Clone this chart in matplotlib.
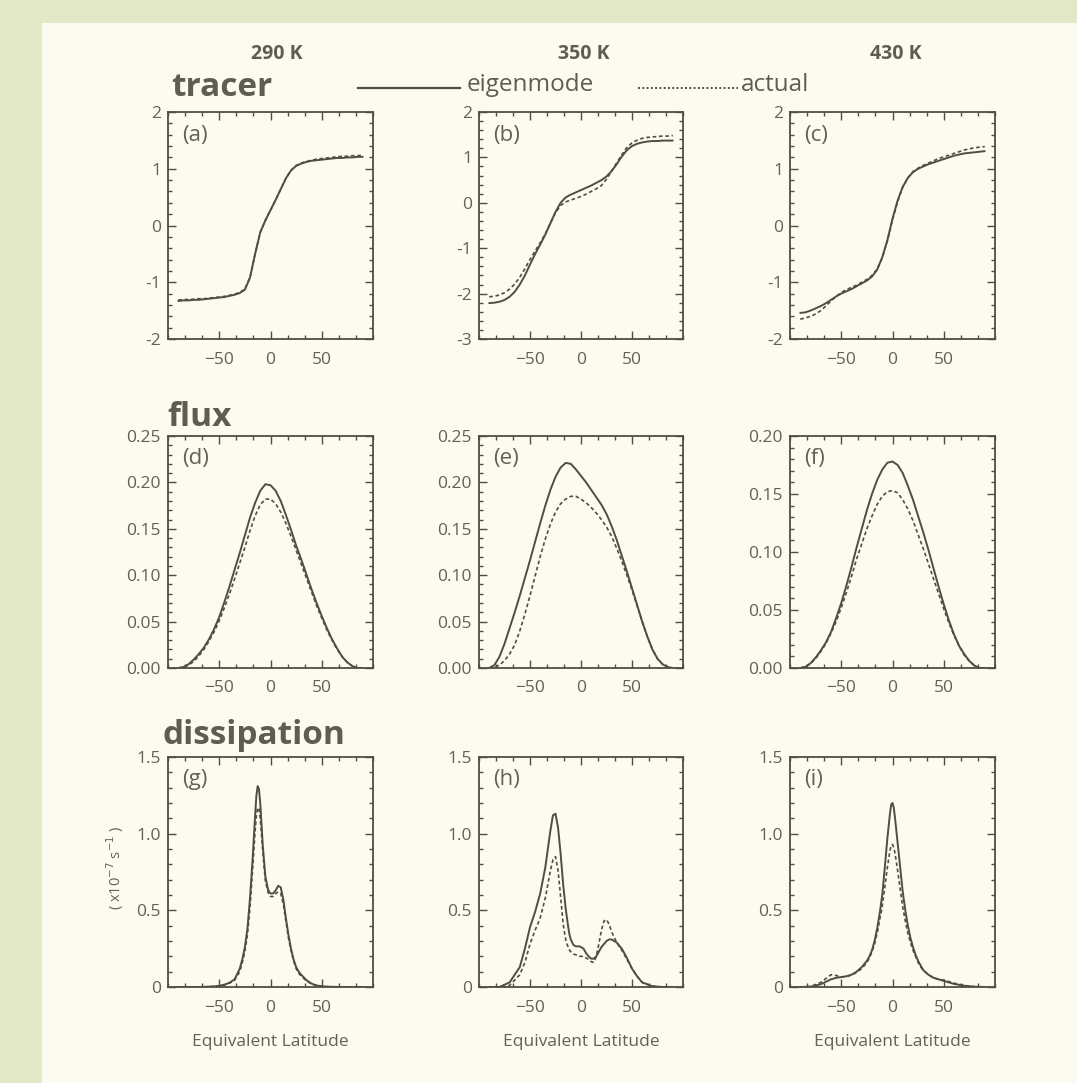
import numpy as np
import matplotlib
matplotlib.use("Agg")
import matplotlib.pyplot as plt
from matplotlib.ticker import FixedLocator, MultipleLocator, AutoMinorLocator, FormatStrFormatter
from matplotlib.patches import Rectangle
from matplotlib.lines import Line2D

# ---- data ----
lat = [-90, -85, -80, -75, -70, -65, -60, -55, -50, -45, -40, -35, -30, -25, -20, -15, -10, -5,
       0, 5, 10, 15, 20, 25, 30, 35, 40, 45, 50, 55, 60, 65, 70, 75, 80, 85, 90]

tracer_290_eig = [-1.33, -1.32, -1.32, -1.31, -1.31, -1.30, -1.29, -1.28, -1.27, -1.26, -1.24, -1.22, -1.19,
                  -1.13, -0.92, -0.50, -0.12, 0.09, 0.27, 0.45, 0.64, 0.83, 0.97, 1.05, 1.09, 1.12, 1.14,
                  1.15, 1.16, 1.17, 1.18, 1.19, 1.19, 1.20, 1.20, 1.21, 1.21]
tracer_290_act = [-1.31, -1.31, -1.30, -1.30, -1.29, -1.29, -1.28, -1.27, -1.26, -1.25, -1.23, -1.21, -1.18,
                  -1.12, -0.91, -0.50, -0.12, 0.09, 0.27, 0.45, 0.64, 0.83, 0.97, 1.06, 1.10, 1.13, 1.15,
                  1.17, 1.18, 1.19, 1.20, 1.21, 1.22, 1.22, 1.23, 1.23, 1.24]
tracer_350_eig = [-2.21, -2.20, -2.18, -2.14, -2.07, -1.96, -1.80, -1.60, -1.36, -1.13, -0.92, -0.70, -0.45,
                  -0.20, 0.00, 0.12, 0.18, 0.23, 0.28, 0.33, 0.38, 0.44, 0.50, 0.58, 0.70, 0.85, 1.02,
                  1.16, 1.25, 1.30, 1.33, 1.35, 1.36, 1.36, 1.37, 1.37, 1.37]
tracer_350_act = [-2.07, -2.06, -2.03, -1.98, -1.90, -1.79, -1.64, -1.45, -1.25, -1.06, -0.88, -0.68, -0.45,
                  -0.22, -0.06, 0.02, 0.06, 0.10, 0.14, 0.19, 0.25, 0.31, 0.38, 0.52, 0.70, 0.88, 1.06,
                  1.22, 1.32, 1.38, 1.42, 1.44, 1.45, 1.46, 1.47, 1.47, 1.48]
tracer_430_eig = [-1.54, -1.53, -1.50, -1.46, -1.42, -1.37, -1.31, -1.25, -1.20, -1.16, -1.12, -1.07, -1.02,
                  -0.97, -0.90, -0.78, -0.56, -0.26, 0.12, 0.44, 0.68, 0.84, 0.94, 1.00, 1.04, 1.08, 1.11,
                  1.14, 1.17, 1.20, 1.23, 1.25, 1.27, 1.28, 1.29, 1.30, 1.31]
tracer_430_act = [-1.65, -1.63, -1.60, -1.56, -1.50, -1.42, -1.33, -1.25, -1.18, -1.13, -1.09, -1.05, -1.00,
                  -0.95, -0.88, -0.77, -0.57, -0.27, 0.10, 0.42, 0.68, 0.84, 0.95, 1.01, 1.06, 1.10, 1.14,
                  1.18, 1.21, 1.24, 1.27, 1.30, 1.33, 1.35, 1.37, 1.38, 1.39]

flux_290_eig = [0.000, 0.001, 0.004, 0.009, 0.015, 0.022, 0.031, 0.042, 0.055, 0.071, 0.088, 0.106, 0.124,
                0.143, 0.162, 0.178, 0.191, 0.198, 0.197, 0.191, 0.180, 0.165, 0.149, 0.132, 0.117, 0.101,
                0.085, 0.070, 0.056, 0.043, 0.031, 0.021, 0.012, 0.006, 0.002, 0.000, 0.000]
flux_290_act = [0.000, 0.001, 0.003, 0.007, 0.013, 0.020, 0.029, 0.039, 0.051, 0.065, 0.080, 0.096, 0.113,
                0.130, 0.148, 0.164, 0.176, 0.182, 0.182, 0.177, 0.168, 0.156, 0.142, 0.127, 0.112, 0.097,
                0.082, 0.067, 0.054, 0.041, 0.030, 0.020, 0.012, 0.006, 0.002, 0.000, 0.000]
flux_350_eig = [0.000, 0.003, 0.012, 0.026, 0.043, 0.060, 0.078, 0.097, 0.116, 0.136, 0.156, 0.175, 0.192,
                0.206, 0.216, 0.221, 0.220, 0.214, 0.207, 0.200, 0.192, 0.184, 0.176, 0.166, 0.153, 0.138,
                0.121, 0.104, 0.086, 0.068, 0.050, 0.034, 0.020, 0.010, 0.004, 0.001, 0.000]
flux_350_act = [0.000, 0.001, 0.003, 0.008, 0.015, 0.025, 0.040, 0.058, 0.078, 0.099, 0.120, 0.139, 0.155,
                0.168, 0.177, 0.182, 0.185, 0.185, 0.182, 0.178, 0.173, 0.167, 0.160, 0.152, 0.142, 0.129,
                0.115, 0.100, 0.084, 0.067, 0.050, 0.034, 0.020, 0.010, 0.004, 0.001, 0.000]
flux_430_eig = [0.000, 0.001, 0.004, 0.009, 0.015, 0.022, 0.031, 0.043, 0.056, 0.071, 0.087, 0.104, 0.120,
                0.136, 0.150, 0.162, 0.171, 0.177, 0.178, 0.175, 0.168, 0.157, 0.145, 0.131, 0.117, 0.102,
                0.086, 0.070, 0.055, 0.041, 0.029, 0.019, 0.012, 0.006, 0.002, 0.000, 0.000]
flux_430_act = [0.000, 0.001, 0.004, 0.008, 0.014, 0.021, 0.030, 0.040, 0.052, 0.065, 0.079, 0.094, 0.107,
                0.120, 0.131, 0.141, 0.148, 0.152, 0.153, 0.151, 0.145, 0.137, 0.127, 0.115, 0.103, 0.090,
                0.077, 0.064, 0.051, 0.039, 0.028, 0.019, 0.011, 0.006, 0.002, 0.000, 0.000]

lat_d = [-90, -80, -70, -60, -55, -50, -45, -40, -35, -30, -27.5, -25, -22.5, -20, -17.5, -15, -13.75,
         -12.5, -11.25, -10, -7.5, -5, -2.5, -1.25, 0, 1.25, 2.5, 5, 7.5, 10, 12.5, 15, 17.5, 20, 22.5,
         25, 27.5, 30, 35, 40, 45, 50, 55, 60, 70, 80, 90]

diss_290_eig = [0, 0, 0, 0.002, 0.004, 0.008, 0.015, 0.028, 0.050, 0.12, 0.18, 0.26, 0.38, 0.58, 0.83, 1.12,
                1.25, 1.31, 1.29, 1.20, 0.92, 0.72, 0.64, 0.62, 0.61, 0.61, 0.61, 0.63, 0.66, 0.65, 0.57,
                0.45, 0.34, 0.25, 0.18, 0.13, 0.10, 0.08, 0.045, 0.022, 0.010, 0.005, 0.002, 0.001, 0, 0, 0]
diss_290_act = [0, 0, 0, 0.002, 0.004, 0.007, 0.013, 0.025, 0.045, 0.10, 0.16, 0.23, 0.34, 0.52, 0.76, 1.02,
                1.12, 1.17, 1.16, 1.10, 0.88, 0.69, 0.62, 0.60, 0.59, 0.59, 0.59, 0.61, 0.62, 0.61, 0.54,
                0.43, 0.32, 0.24, 0.17, 0.12, 0.09, 0.07, 0.04, 0.02, 0.009, 0.004, 0.002, 0.001, 0, 0, 0]
diss_350_eig = [0, 0, 0.03, 0.13, 0.25, 0.39, 0.49, 0.61, 0.78, 1.02, 1.12, 1.13, 1.04, 0.87, 0.67, 0.51,
                0.45, 0.39, 0.34, 0.31, 0.275, 0.265, 0.265, 0.265, 0.26, 0.255, 0.25, 0.22, 0.20, 0.185,
                0.185, 0.20, 0.23, 0.26, 0.28, 0.30, 0.31, 0.31, 0.29, 0.25, 0.19, 0.12, 0.07, 0.03,
                0.005, 0, 0]
diss_350_act = [0, 0, 0.01, 0.08, 0.16, 0.28, 0.37, 0.45, 0.58, 0.76, 0.83, 0.85, 0.76, 0.59, 0.41, 0.31,
                0.28, 0.26, 0.24, 0.23, 0.215, 0.21, 0.205, 0.20, 0.20, 0.20, 0.20, 0.19, 0.18, 0.165,
                0.16, 0.20, 0.28, 0.37, 0.43, 0.44, 0.41, 0.36, 0.29, 0.24, 0.18, 0.12, 0.07, 0.03,
                0.005, 0, 0]
diss_430_eig = [0, 0.002, 0.018, 0.05, 0.06, 0.065, 0.07, 0.08, 0.10, 0.13, 0.15, 0.17, 0.20, 0.24, 0.30,
                0.38, 0.43, 0.48, 0.54, 0.60, 0.78, 0.97, 1.13, 1.19, 1.20, 1.17, 1.10, 0.94, 0.78, 0.62,
                0.50, 0.40, 0.32, 0.26, 0.21, 0.17, 0.14, 0.11, 0.08, 0.06, 0.05, 0.04, 0.03, 0.02, 0.008,
                0.002, 0]
diss_430_act = [0, 0.003, 0.03, 0.08, 0.075, 0.065, 0.068, 0.078, 0.095, 0.12, 0.14, 0.16, 0.19, 0.23, 0.28,
                0.35, 0.39, 0.44, 0.48, 0.53, 0.65, 0.78, 0.89, 0.92, 0.93, 0.91, 0.87, 0.76, 0.64, 0.52,
                0.43, 0.35, 0.29, 0.24, 0.20, 0.16, 0.13, 0.11, 0.08, 0.06, 0.05, 0.045, 0.035, 0.025,
                0.01, 0.002, 0]

temps = ["290 K", "350 K", "430 K"]
letters = ["(a)", "(b)", "(c)", "(d)", "(e)", "(f)", "(g)", "(h)", "(i)"]
row_names = ["tracer", "flux", "dissipation"]

# ---- style ----
W, H = 1077, 1083
bg_out = "#e3e9c7"
bg_in = "#fbfbf1"
ink = "#4f4e45"
txt = "#5e5d51"
lab = "#626156"
font = "Open Sans"

fig = plt.figure(figsize=(W / 100, H / 100), dpi=100)
fig.patch.set_facecolor(bg_out)
fig.patches.append(Rectangle((42 / W, 0), 1 - 42 / W, 1 - 23 / H, transform=fig.transFigure,
                             facecolor=bg_in, edgecolor="none", zorder=-10))


def fx(x):
    return x / W


def fy(y):
    return 1 - y / H


col_left = [168, 479, 790]
col_w = [205, 204, 205]
rows = [(112, 339), (436, 668), (757, 987)]

panels = [
    (lat, tracer_290_eig, tracer_290_act), (lat, tracer_350_eig, tracer_350_act), (lat, tracer_430_eig, tracer_430_act),
    (lat, flux_290_eig, flux_290_act), (lat, flux_350_eig, flux_350_act), (lat, flux_430_eig, flux_430_act),
    (lat_d, diss_290_eig, diss_290_act), (lat_d, diss_350_eig, diss_350_act), (lat_d, diss_430_eig, diss_430_act),
]
ylims = [(-2, 2), (-3, 2), (-2, 2), (0, 0.25), (0, 0.25), (0, 0.20), (0, 1.5), (0, 1.5), (0, 1.5)]

for k, (x, eig, act) in enumerate(panels):
    r, c = divmod(k, 3)
    top, bot = rows[r]
    ax = fig.add_axes([fx(col_left[c]), fy(bot), fx(col_w[c]), (bot - top) / H])
    ax.set_facecolor(bg_in)
    ax.plot(x, eig, color=ink, lw=1.4, solid_capstyle="round", solid_joinstyle="round")
    ax.plot(x, act, color=ink, lw=1.2, ls=(0, (2.2, 1.6)))
    ax.set_xlim(-100, 100)
    ax.set_ylim(*ylims[k])
    ax.xaxis.set_major_locator(FixedLocator([-50, 0, 50]))
    ax.xaxis.set_minor_locator(MultipleLocator(50 / 3))
    if r == 0:
        ax.yaxis.set_major_locator(MultipleLocator(1))
        ax.yaxis.set_major_formatter(FormatStrFormatter("%d"))
    elif r == 1:
        ax.yaxis.set_major_locator(MultipleLocator(0.05))
        ax.yaxis.set_major_formatter(FormatStrFormatter("%.2f"))
    else:
        ax.yaxis.set_major_locator(FixedLocator([0, 0.5, 1.0, 1.5]))
        ax.set_yticklabels(["0", "0.5", "1.0", "1.5"])
    ax.yaxis.set_minor_locator(AutoMinorLocator(5))
    ax.tick_params(which="both", direction="in", top=True, right=True, color=ink,
                   labelsize=12.5, labelcolor=lab)
    ax.tick_params(which="major", length=6, width=1.0)
    ax.tick_params(which="minor", length=3, width=1.0)
    ax.tick_params(axis="x", which="major", pad=9)
    ax.tick_params(axis="y", which="major", pad=5)
    for lbl in ax.get_xticklabels() + ax.get_yticklabels():
        lbl.set_fontfamily(font)
    for s in ax.spines.values():
        s.set_color(ink)
        s.set_linewidth(1.3)
    ax.text(14 / col_w[c], 1 - 23 / (bot - top), letters[k], transform=ax.transAxes,
            fontsize=16, color=lab, family=font, va="center", ha="left")
    if r == 2:
        ax.set_xlabel("Equivalent Latitude", fontsize=12.5, color=lab, family=font, labelpad=13)

# column headers
for xc, t in zip([277, 584, 896], temps):
    fig.text(fx(xc), fy(54), t, ha="center", va="center", fontsize=14, fontweight="bold",
             color=txt, family=font)

# row titles
for (xl, yc), name in zip([(171, 88), (167, 418), (162, 735)], row_names):
    fig.text(fx(xl), fy(yc), name, ha="left", va="center", fontsize=24, fontweight="bold",
             color=txt, family=font)

# legend
fig.lines.append(Line2D([fx(358), fx(460)], [fy(88), fy(88)], transform=fig.transFigure,
                        color=ink, lw=1.6))
fig.text(fx(467), fy(85), "eigenmode", ha="left", va="center", fontsize=17.5, color=txt, family=font)
fig.lines.append(Line2D([fx(638), fx(738)], [fy(88), fy(88)], transform=fig.transFigure,
                        color=ink, lw=1.4, ls=(0, (1, 1.2))))
fig.text(fx(741), fy(85), "actual", ha="left", va="center", fontsize=17.5, color=txt, family=font)

# units label
fig.text(fx(115), fy(868), r"( x10$^{-7}$ s$^{-1}$ )", rotation=90, ha="center", va="center",
         fontsize=10.5, color=lab, family=font)

fig.savefig("out.png", dpi=100, facecolor=fig.get_facecolor())
